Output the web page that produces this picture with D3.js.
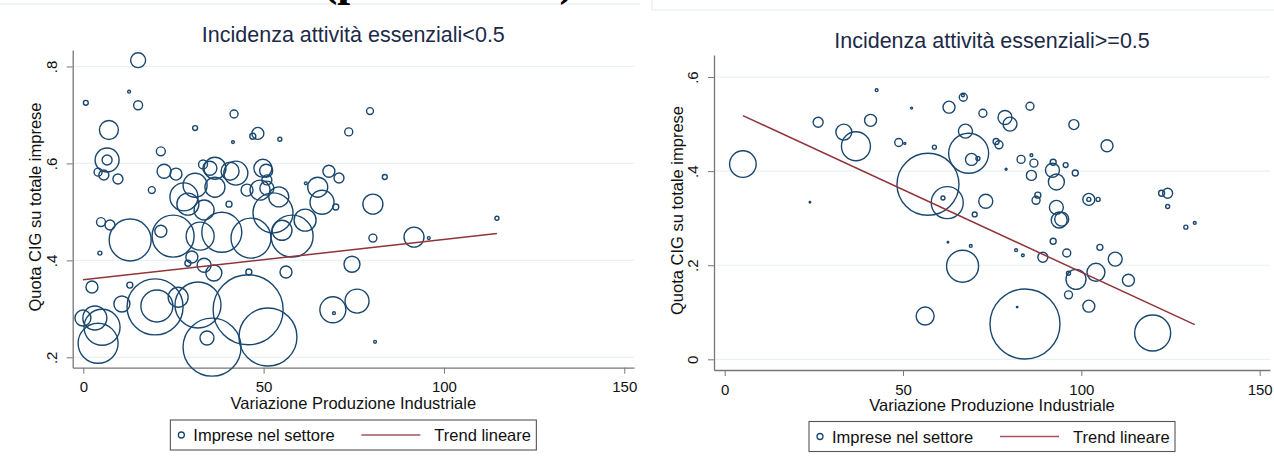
<!DOCTYPE html>
<html>
<head>
<meta charset="utf-8">
<script src="https://cdn.jsdelivr.net/npm/d3@7"></script>
<style>
  body { margin: 0; background: #fff; }
  svg { display: block; font-family: "Liberation Sans", Arial, sans-serif; }
</style>
</head>
<body>
<svg id="chart" width="1274" height="465"></svg>
<script>
// Panel 1: incidenza attività essenziali < 0.5
const leftX = [15.2, 0.7, 12.7, 15.2, 31, 41.8, 79.5, 7.1, 48.4, 47, 54.5, 41.5, 73.6, 21.5, 6.6, 6.6,
  4.1, 5.7, 9.6, 22.4, 25.7, 33.2, 35.1, 36.5, 40.7, 42.3, 49.8, 50.7, 50.9, 68.1, 70.9, 83.6,
  31, 36.5, 19, 27.9, 29, 33.5, 40.4, 45.4, 49, 50.9, 54.2, 52.6, 61.7, 65, 66.2, 70, 80.3, 114.7,
  4.9, 7.4, 13, 21.5, 24.9, 32.4, 38.4, 46.5, 55.1, 57.9, 61.5, 80.3, 91.7, 95.8,
  4.6, 30.1, 29, 33.5, 36.2, 45.9, 56.2, 74.5, 2.4, 12.9, 10.7, 19.9, 20.4, 26.3, 31.8, 45.7,
  69.2, 69.5, 75.9, -0.1, 3.2, 5.2, 4.1, 34.3, 35.7, 51.2, 80.9];
const leftY = [0.813, 0.725, 0.748, 0.72, 0.673, 0.702, 0.708, 0.669, 0.662, 0.656, 0.65, 0.644, 0.665, 0.625, 0.607, 0.607,
  0.582, 0.576, 0.568, 0.584, 0.578, 0.598, 0.59, 0.59, 0.584, 0.58, 0.59, 0.585, 0.566, 0.584, 0.57, 0.572,
  0.555, 0.551, 0.545, 0.531, 0.516, 0.504, 0.516, 0.545, 0.545, 0.549, 0.531, 0.498, 0.559, 0.551, 0.52, 0.51, 0.516, 0.487,
  0.479, 0.473, 0.442, 0.46, 0.45, 0.45, 0.458, 0.446, 0.462, 0.45, 0.483, 0.446, 0.448, 0.446,
  0.415, 0.407, 0.394, 0.39, 0.374, 0.376, 0.376, 0.392, 0.345, 0.349, 0.31, 0.304, 0.306, 0.324, 0.308, 0.298,
  0.298, 0.291, 0.316, 0.281, 0.281, 0.262, 0.229, 0.24, 0.221, 0.242, 0.232];
// imprese nel settore (peso della bolla)
const leftW = [56, 6, 2, 20, 6, 16, 12, 90, 36, 9, 4, 2, 16, 20, 144, 25,
  16, 25, 25, 49, 36, 20, 49, 121, 81, 144, 81, 42, 25, 36, 25, 6,
  144, 100, 12, 196, 121, 100, 9, 36, 100, 49, 100, 400, 2, 100, 144, 9, 100, 4,
  20, 25, 441, 36, 441, 196, 400, 400, 100, 441, 121, 16, 100, 2,
  4, 36, 9, 49, 64, 9, 36, 64, 36, 9, 64, 784, 256, 100, 529, 1225,
  169, 2, 144, 64, 144, 324, 400, 49, 841, 841, 2];
const leftTrend = [0.36, 0.00083];     // intercetta, pendenza
const leftTrendRange = [-0.1, 114.7];

// Panel 2: incidenza attività essenziali >= 0.5
const rightX = [42.6, 52.4, 66.9, 66.8, 62.9, 72.4, 85.6, 78.6, 80, 26.2, 40.9, 33.4, 97.9, 67.5,
  36.8, 48.8, 50.5, 58.8, 68.4, 69.2, 71, 76.1, 76.9, 107.2, 5.1, 57, 62.4, 61.2, 23.9, 70.1,
  73.2, 62.6, 69, 78.9, 83.1, 86.7, 86, 86, 92.1, 91.9, 93, 95.6, 98.3, 87.8, 87.3, 93, 93.8,
  94.5, 92.1, 102.1, 102.1, 104.7, 105.2, 95.9, 122.5, 124.2, 124.2, 129.3, 131.8, 81.7, 83.6,
  89.2, 109.5, 66.7, 104.1, 98.5, 96.4, 113.2, 96.4, 102.1, 56.2, 84.2, 82, 120];
const rightY = [0.572, 0.534, 0.557, 0.561, 0.536, 0.523, 0.538, 0.514, 0.5, 0.504, 0.508, 0.483, 0.499, 0.485,
  0.453, 0.461, 0.459, 0.451, 0.438, 0.425, 0.427, 0.463, 0.456, 0.454, 0.415, 0.372, 0.333, 0.343, 0.334, 0.308,
  0.336, 0.249, 0.241, 0.404, 0.425, 0.417, 0.434, 0.391, 0.419, 0.402, 0.377, 0.413, 0.396, 0.349, 0.338, 0.323, 0.296,
  0.298, 0.251, 0.34, 0.34, 0.34, 0.238, 0.226, 0.353, 0.353, 0.325, 0.281, 0.29, 0.232, 0.221,
  0.217, 0.213, 0.198, 0.185, 0.17, 0.183, 0.168, 0.137, 0.113, 0.092, 0.075, 0.111, 0.056];
const rightW = [2, 1, 16, 2, 36, 16, 16, 49, 49, 25, 36, 64, 25, 49,
  210, 16, 1, 4, 400, 36, 4, 9, 16, 36, 177, 961, 256, 4, 0.6, 6,
  49, 0.6, 2, 1, 16, 16, 2, 25, 9, 49, 64, 6, 9, 9, 16, 49, 64,
  49, 9, 36, 4, 4, 9, 16, 9, 25, 4, 4, 2, 2, 2,
  25, 49, 256, 81, 100, 4, 36, 16, 36, 81, 1225, 0.6, 324];
const rightTrend = [0.536, -0.003507];
const rightTrendRange = [5.1, 131.8];

const panelTitles = ["Incidenza attività essenziali<0.5", "Incidenza attività essenziali>=0.5"];
const xTicks = [0, 50, 100, 150];
const leftYTicks = [0.2, 0.4, 0.6, 0.8];
const rightYTicks = [0, 0.2, 0.4, 0.6];
const xTitle = "Variazione Produzione Industriale";
const yTitle = "Quota CIG su totale imprese";
const legendLabels = ["Imprese nel settore", "Trend lineare"];

const svg = d3.select("#chart");
const navy = "#1a476f", maroon = "#90353b", grid = "#eaf1f2", axisCol = "#777";

// remains of the page above the figure
svg.append("line").attr("x1", 0).attr("x2", 640).attr("y1", 4).attr("y2", 4)
  .attr("stroke", "#e4eaea");
svg.append("path").attr("d", "M652,0V10H1274").attr("fill", "none").attr("stroke", "#e4eaea");
svg.append("text").attr("x", 322).attr("y", -5)
  .attr("font-family", "'Liberation Serif', 'Times New Roman', serif")
  .attr("font-weight", "bold").attr("font-size", 46)
  .attr("textLength", 253).attr("lengthAdjust", "spacingAndGlyphs")
  .text("(percentuali)");

const r = d3.scaleSqrt().domain([0, 1225]).range([0, 35]);

function drawPanel(p) {
  const g = svg.append("g");
  const x = d3.scaleLinear().domain(p.xDomain).range([p.left, p.right]);
  const y = d3.scaleLinear().domain(p.yDomain).range([p.bottom, p.top]);

  // gridlines
  g.selectAll(".grid").data(p.yTicks).join("line")
    .attr("x1", p.left).attr("x2", p.right)
    .attr("y1", d => y(d)).attr("y2", d => y(d))
    .attr("stroke", grid).attr("stroke-width", 1.2);

  const fmt = d => d === 0 ? "0" : d3.format(".1f")(d).replace(/^0/, "");

  const xa = g.append("g").attr("transform", `translate(0,${p.bottom})`)
    .call(d3.axisBottom(x).tickValues(xTicks).tickSize(6).tickSizeOuter(0).tickPadding(8));
  const ya = g.append("g").attr("transform", `translate(${p.left},0)`)
    .call(d3.axisLeft(y).tickValues(p.yTicks).tickFormat(fmt).tickSize(6).tickSizeOuter(0));
  [xa, ya].forEach(a => {
    a.select(".domain").attr("stroke", axisCol).attr("stroke-width", 1.3);
    a.selectAll(".tick line").attr("stroke", axisCol);
    a.selectAll("text").attr("fill", "#111").attr("font-size", 15)
      .attr("font-family", "'Liberation Sans', Arial, sans-serif");
  });
  ya.selectAll(".tick text")
    .attr("x", null).attr("dy", null).attr("text-anchor", "middle")
    .attr("transform", "translate(-16,0) rotate(-90)");

  // bubbles
  const pts = p.xs.map((v, i) => ({ x: v, y: p.ys[i], w: p.ws[i] }));
  g.selectAll(".bubble").data(pts).join("circle")
    .attr("cx", d => x(d.x)).attr("cy", d => y(d.y)).attr("r", d => r(d.w))
    .attr("fill", "none").attr("stroke", navy).attr("stroke-width", 1.4);

  // linear trend
  const tl = d3.line().x(d => x(d)).y(d => y(p.trend[0] + p.trend[1] * d));
  g.append("path").attr("d", tl(p.trendRange))
    .attr("fill", "none").attr("stroke", maroon).attr("stroke-width", 1.5);

  const cx = (p.left + p.right) / 2;
  g.append("text").attr("x", cx).attr("y", p.titleY).attr("text-anchor", "middle")
    .attr("font-size", 21.5).attr("fill", "#1c2a48").text(p.title);
  g.append("text").attr("x", cx).attr("y", p.xTitleY).attr("text-anchor", "middle")
    .attr("font-size", 16.5).attr("fill", "#111").text(xTitle);
  g.append("text").attr("transform", `translate(${p.yTitleX},${p.yTitleMid}) rotate(-90)`)
    .attr("text-anchor", "middle").attr("font-size", 16.5).attr("fill", "#111").text(yTitle);

  // legend
  const lg = g.append("g").attr("transform", `translate(${cx - 183},${p.legendY})`);
  lg.append("rect").attr("width", 366).attr("height", 30)
    .attr("fill", "#fff").attr("stroke", "#555").attr("stroke-width", 1.1);
  lg.append("circle").attr("cx", 11).attr("cy", 15).attr("r", 3)
    .attr("fill", "none").attr("stroke", navy).attr("stroke-width", 1.3);
  lg.append("text").attr("x", 23).attr("y", 21).attr("font-size", 16.5).attr("fill", "#111")
    .text(legendLabels[0]);
  lg.append("line").attr("x1", 191).attr("x2", 250).attr("y1", 15).attr("y2", 15)
    .attr("stroke", "#a2545a").attr("stroke-width", 1.5);
  lg.append("text").attr("x", 264).attr("y", 21).attr("font-size", 16.5).attr("fill", "#111")
    .text(legendLabels[1]);
}

drawPanel({
  xs: leftX, ys: leftY, ws: leftW, trend: leftTrend, trendRange: leftTrendRange,
  yTicks: leftYTicks, title: panelTitles[0],
  xDomain: [-2.94, 152.7], yDomain: [0.1786, 0.834],
  left: 72.7, right: 634, top: 50, bottom: 367.7,
  titleY: 41.5, xTitleY: 408.5, yTitleX: 41, yTitleMid: 207, legendY: 420
});
drawPanel({
  xs: rightX, ys: rightY, ws: rightW, trend: rightTrend, trendRange: rightTrendRange,
  yTicks: rightYTicks, title: panelTitles[1],
  xDomain: [-3.0, 152.9], yDomain: [-0.0227, 0.6469],
  left: 714, right: 1270, top: 55, bottom: 370,
  titleY: 48, xTitleY: 411, yTitleX: 683, yTitleMid: 210.5, legendY: 421.5
});
</script>
</body>
</html>
